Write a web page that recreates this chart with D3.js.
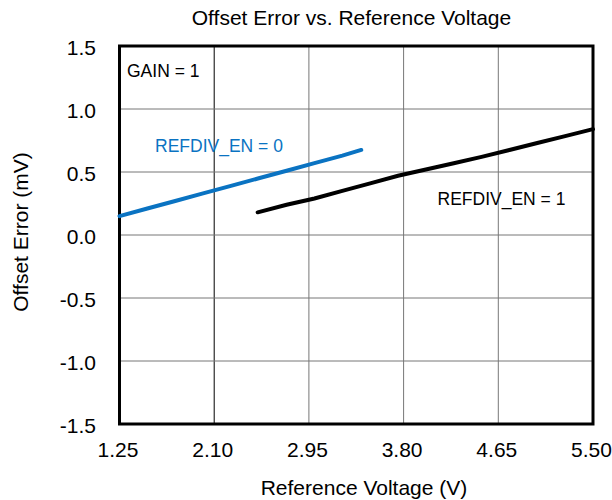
<!DOCTYPE html>
<html><head><meta charset="utf-8">
<script src="https://cdn.jsdelivr.net/npm/d3@7"></script>
<style>body{margin:0;background:#fff}svg{display:block;font-family:"Liberation Sans",Arial,sans-serif}</style>
</head><body><svg id="c" width="612" height="500"></svg>
<script>
const xTicks = [1.25, 2.10, 2.95, 3.80, 4.65, 5.50];
const yTicks = [-1.5, -1.0, -0.5, 0.0, 0.5, 1.0, 1.5];
const blueV = [1.25, 1.5, 1.75, 2.0, 2.25, 2.5, 2.75, 3.0, 3.25, 3.42];
const blueE = [0.15, 0.21, 0.27, 0.33, 0.39, 0.45, 0.51, 0.57, 0.63, 0.675];
const blackV = [2.49, 2.75, 3.0, 3.25, 3.5, 3.75, 4.0, 4.25, 4.5, 4.75, 5.0, 5.25, 5.5];
const blackE = [0.18, 0.24, 0.29, 0.35, 0.41, 0.47, 0.52, 0.57, 0.62, 0.675, 0.73, 0.785, 0.84];

const svg = d3.select("#c");
const L = 119.5, R = 593, T = 46, B = 424;
const x = d3.scaleLinear().domain([1.25, 5.5]).range([L, R]);
const y = d3.scaleLinear().domain([-1.5, 1.5]).range([B, T]);

// grid
svg.append("g").selectAll("line").data(xTicks.slice(1, -1)).join("line")
  .attr("x1", d => x(d)).attr("x2", d => x(d)).attr("y1", T).attr("y2", B)
  .attr("stroke", (d, i) => i === 0 ? "#000" : "#777").attr("stroke-width", 1);
svg.append("g").selectAll("line").data(yTicks.slice(1, -1)).join("line")
  .attr("x1", L).attr("x2", R).attr("y1", d => y(d)).attr("y2", d => y(d))
  .attr("stroke", "#777").attr("stroke-width", 1);

// axes labels via d3 axes
const xa = svg.append("g").attr("transform", `translate(0,${B})`)
  .call(d3.axisBottom(x).tickValues(xTicks).tickFormat(d => d.toFixed(2)).tickSize(0).tickPadding(18));
const ya = svg.append("g").attr("transform", `translate(${L},0)`)
  .call(d3.axisLeft(y).tickValues(yTicks).tickFormat(d => d.toFixed(1)).tickSize(0).tickPadding(23.5));
[xa, ya].forEach(a => { a.select(".domain").remove(); a.selectAll("text").attr("font-size", 21).attr("fill", "#000").attr("font-family", "Liberation Sans, Arial, sans-serif"); });
ya.selectAll("text").attr("dy", "0.41em");
xa.selectAll("text").attr("dx", -2);

// frame
svg.append("rect").attr("x", L).attr("y", T).attr("width", R - L).attr("height", B - T)
  .attr("fill", "none").attr("stroke", "#000").attr("stroke-width", 3);

const line = d3.line().x(d => x(d[0])).y(d => y(d[1]));
svg.append("path").datum(blueV.map((v, i) => [v, blueE[i]])).attr("d", line)
  .attr("fill", "none").attr("stroke", "#0a73c2").attr("stroke-width", 4).attr("stroke-linecap", "round");
svg.append("path").datum(blackV.map((v, i) => [v, blackE[i]])).attr("d", line)
  .attr("fill", "none").attr("stroke", "#000").attr("stroke-width", 4).attr("stroke-linecap", "round");

// text
svg.append("text").attr("x", 351.5).attr("y", 25).attr("text-anchor", "middle").attr("font-size", 21).text("Offset Error vs. Reference Voltage");
svg.append("text").attr("x", 364).attr("y", 495).attr("text-anchor", "middle").attr("font-size", 21).text("Reference Voltage (V)");
svg.append("text").attr("transform", "translate(28,232) rotate(-90)").attr("text-anchor", "middle").attr("font-size", 21).text("Offset Error (mV)");
svg.append("text").attr("x", 127).attr("y", 77).attr("font-size", 17.5).text("GAIN = 1");
svg.append("text").attr("x", 155).attr("y", 152).attr("font-size", 17.5).attr("fill", "#0a73c2").text("REFDIV_EN = 0");
svg.append("text").attr("x", 437.5).attr("y", 205).attr("font-size", 17.5).text("REFDIV_EN = 1");
</script></body></html>
